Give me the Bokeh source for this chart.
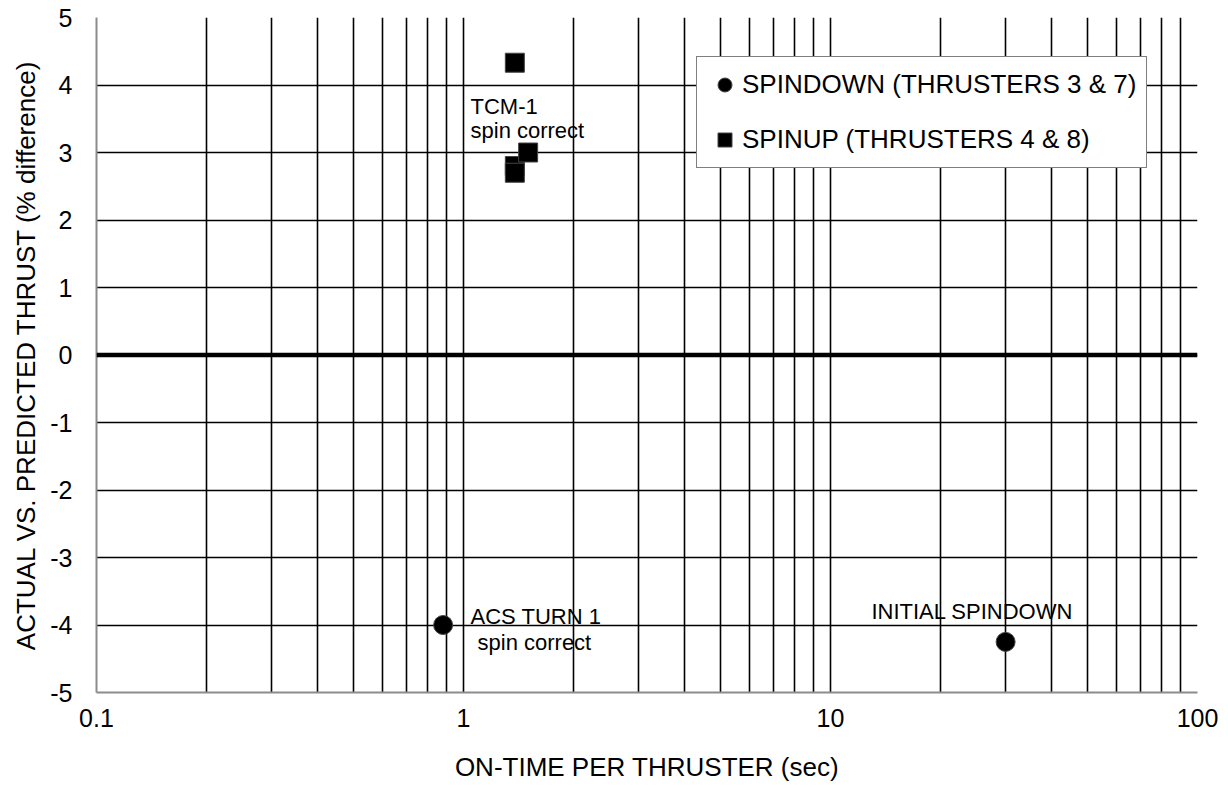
from bokeh.plotting import figure
from bokeh.models import (FixedTicker, Span, Legend, LegendItem, ColumnDataSource,
                          Range1d, CustomJSTickFormatter)
from bokeh.core.properties import value
from bokeh.embed import file_html
from bokeh.resources import INLINE

# ---------------- data ----------------
spindown_x = [0.88, 30.0]
spindown_y = [-4.0, -4.25]
spinup_x = [1.38, 1.38, 1.38, 1.5]
spinup_y = [4.33, 2.8, 2.7, 3.0]

note_text = ["TCM-1", "spin correct", "ACS TURN 1", "spin correct", "INITIAL SPINDOWN"]
note_x = [1.045, 1.045, 1.045, 1.092, 12.93]
note_y = [3.68, 3.33, -3.874, -4.255, -3.80]

x_major = [0.1, 1, 10, 100]
x_minor = [0.2, 0.3, 0.4, 0.5, 0.6, 0.7, 0.8, 0.9,
           2, 3, 4, 5, 6, 7, 8, 9,
           20, 30, 40, 50, 60, 70, 80, 90]
y_ticks = [-5, -4, -3, -2, -1, 0, 1, 2, 3, 4, 5]

legend_labels = ["SPINDOWN (THRUSTERS 3 & 7)", "SPINUP (THRUSTERS 4 & 8)"]

FONT = "Liberation Sans"

p = figure(width=1228, height=789, x_axis_type="log",
           x_range=Range1d(0.1, 100), y_range=Range1d(-5, 5),
           output_backend="svg", toolbar_location=None,
           min_border_left=96, min_border_right=31,
           min_border_top=17, min_border_bottom=97)
p.background_fill_color = "white"
p.border_fill_color = "white"
p.outline_line_color = None

plain = CustomJSTickFormatter(code="return String(tick);")

# axes
p.xaxis.ticker = FixedTicker(ticks=x_major, minor_ticks=x_minor)
p.yaxis.ticker = FixedTicker(ticks=y_ticks)
p.xaxis.formatter = plain
p.yaxis.formatter = plain
for ax in (p.xaxis, p.yaxis):
    ax.major_tick_out = 0
    ax.major_tick_in = 0
    ax.minor_tick_out = 0
    ax.minor_tick_in = 0
    ax.axis_line_color = "#8c8c8c"
    ax.axis_line_width = 2
    ax.major_label_text_font = FONT
    ax.major_label_text_font_size = "25px"
    ax.major_label_text_color = "black"
    ax.axis_label_text_font = FONT
    ax.axis_label_text_font_size = "26px"
    ax.axis_label_text_font_style = "normal"
    ax.axis_label_text_color = "black"
p.xaxis.axis_label = "ON-TIME PER THRUSTER (sec)"
p.yaxis.axis_label = "ACTUAL VS. PREDICTED THRUST (% difference)"
p.xaxis.major_label_standoff = 16
p.xaxis.axis_label_standoff = 22
p.yaxis.major_label_standoff = 24
p.yaxis.axis_label_standoff = 6

# grids
p.xgrid.grid_line_color = "black"
p.xgrid.grid_line_width = 1.6
p.xgrid.minor_grid_line_color = "black"
p.xgrid.minor_grid_line_width = 1.6
p.ygrid.grid_line_color = "black"
p.ygrid.grid_line_width = 1.6

# zero line
p.add_layout(Span(location=0, dimension="width", line_color="black", line_width=4.5))

# points
src_down = ColumnDataSource(dict(x=spindown_x, y=spindown_y))
src_up = ColumnDataSource(dict(x=spinup_x, y=spinup_y))
r_up = p.scatter("x", "y", source=src_up, marker="square", size=19,
                 fill_color="black", line_color="#444444", line_width=1)
r_down = p.scatter("x", "y", source=src_down, marker="circle", size=19,
                   fill_color="black", line_color="#444444", line_width=1)

# annotations
src_notes = ColumnDataSource(dict(x=note_x, y=note_y, t=note_text))
p.text("x", "y", text="t", source=src_notes, text_font=value(FONT),
       text_font_size="22px", text_color="black", text_baseline="alphabetic",
       text_align="left")

legend = Legend(items=[LegendItem(label=legend_labels[0], renderers=[r_down]),
                       LegendItem(label=legend_labels[1], renderers=[r_up])],
                location=(600, 524), orientation="vertical")
legend.margin = 0
legend.padding = 10
legend.spacing = 20
legend.glyph_width = 35
legend.glyph_height = 35
legend.label_standoff = 0
legend.label_text_font = FONT
legend.label_text_font_size = "26px"
legend.label_text_color = "black"
legend.border_line_color = "black"
legend.border_line_width = 1.6
legend.background_fill_color = "white"
legend.background_fill_alpha = 1.0
p.add_layout(legend, "center")

open("out.html", "w").write(file_html(p, INLINE))
